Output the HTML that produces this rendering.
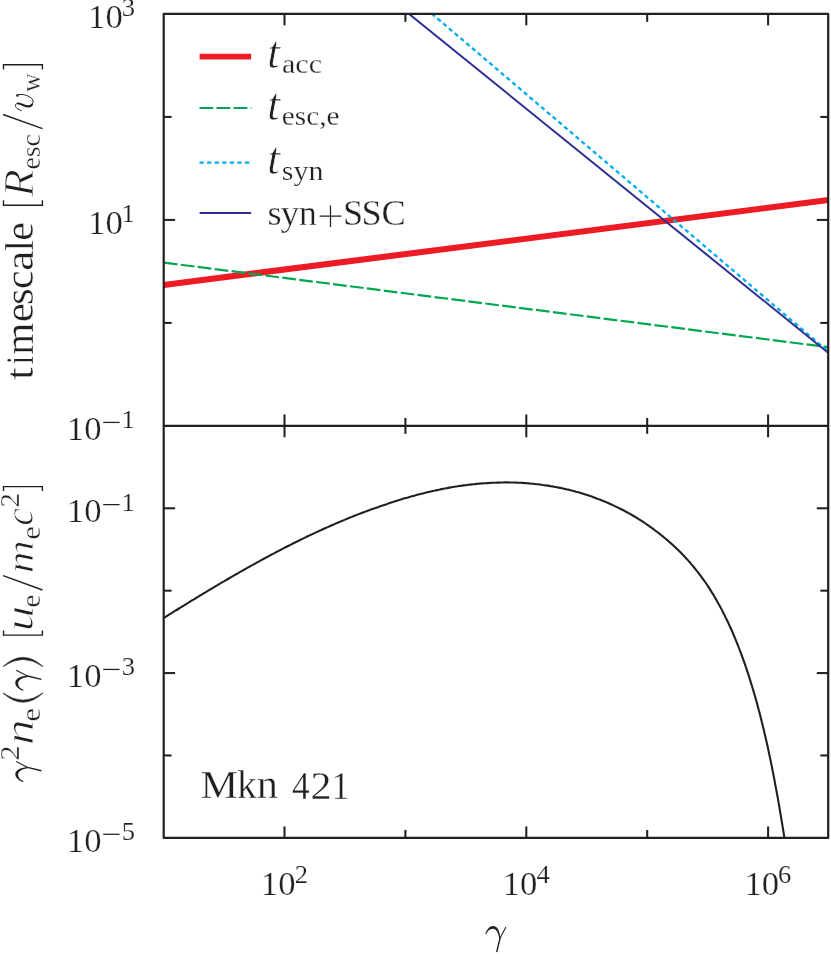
<!DOCTYPE html>
<html><head><meta charset="utf-8"><title>chart</title>
<style>html,body{margin:0;padding:0;background:#fff;}svg{display:block;will-change:transform;}text{font-family:"Liberation Serif",serif;fill:#231f20;}.i{font-style:italic;}</style></head><body>
<svg width="831" height="954" viewBox="0 0 831 954">
<rect width="831" height="954" fill="#fff"/>
<defs><clipPath id="ct"><rect x="163.70" y="13.95" width="664.50" height="411.95"/></clipPath>
<clipPath id="cb"><rect x="163.70" y="425.90" width="664.50" height="411.95"/></clipPath></defs>
<g clip-path="url(#ct)" fill="none">
<line x1="163.9" y1="284.95" x2="828.5" y2="200.0" stroke="#ed1c24" stroke-width="6.1"/>
<line x1="163.9" y1="262.6" x2="828.5" y2="347.2" stroke="#00a651" stroke-width="2.2" stroke-dasharray="13.7 3.35"/>
<line x1="420.17" y1="3.76" x2="840.00" y2="361.58" stroke="#00aeef" stroke-width="2.3" stroke-dasharray="4.3 3.27"/>
<line x1="396.43" y1="3.76" x2="840.00" y2="362.39" stroke="#2e3192" stroke-width="2.0"/>
</g>
<g clip-path="url(#cb)" fill="none"><path d="M162.4 618.8 L164.0 617.9 L165.5 616.9 L167.1 615.9 L168.7 614.9 L170.3 613.9 L171.9 612.9 L173.4 611.9 L175.0 610.9 L176.6 610.0 L178.2 609.0 L179.8 608.0 L181.3 607.0 L182.9 606.1 L184.5 605.1 L186.1 604.1 L187.6 603.1 L189.2 602.2 L190.8 601.2 L192.4 600.2 L194.0 599.3 L195.5 598.3 L197.1 597.3 L198.7 596.4 L200.3 595.4 L201.9 594.5 L203.4 593.5 L205.0 592.6 L206.6 591.6 L208.2 590.7 L209.8 589.7 L211.3 588.8 L212.9 587.8 L214.5 586.9 L216.1 586.0 L217.6 585.0 L219.2 584.1 L220.8 583.2 L222.4 582.2 L224.0 581.3 L225.5 580.4 L227.1 579.5 L228.7 578.5 L230.3 577.6 L231.9 576.7 L233.4 575.8 L235.0 574.9 L236.6 574.0 L238.2 573.1 L239.7 572.2 L241.3 571.3 L242.9 570.4 L244.5 569.5 L246.1 568.6 L247.6 567.7 L249.2 566.8 L250.8 565.9 L252.4 565.1 L254.0 564.2 L255.5 563.3 L257.1 562.4 L258.7 561.6 L260.3 560.7 L261.8 559.8 L263.4 559.0 L265.0 558.1 L266.6 557.3 L268.2 556.4 L269.7 555.6 L271.3 554.7 L272.9 553.9 L274.5 553.1 L276.1 552.2 L277.6 551.4 L279.2 550.6 L280.8 549.8 L282.4 548.9 L283.9 548.1 L285.5 547.3 L287.1 546.5 L288.7 545.7 L290.3 544.9 L291.8 544.1 L293.4 543.3 L295.0 542.5 L296.6 541.7 L298.2 541.0 L299.7 540.2 L301.3 539.4 L302.9 538.6 L304.5 537.9 L306.0 537.1 L307.6 536.3 L309.2 535.6 L310.8 534.8 L312.4 534.1 L313.9 533.4 L315.5 532.6 L317.1 531.9 L318.7 531.2 L320.3 530.4 L321.8 529.7 L323.4 529.0 L325.0 528.3 L326.6 527.6 L328.2 526.9 L329.7 526.2 L331.3 525.5 L332.9 524.8 L334.5 524.1 L336.0 523.4 L337.6 522.7 L339.2 522.1 L340.8 521.4 L342.4 520.7 L343.9 520.1 L345.5 519.4 L347.1 518.8 L348.7 518.1 L350.3 517.5 L351.8 516.9 L353.4 516.2 L355.0 515.6 L356.6 515.0 L358.1 514.4 L359.7 513.8 L361.3 513.2 L362.9 512.6 L364.5 512.0 L366.0 511.4 L367.6 510.8 L369.2 510.2 L370.8 509.6 L372.4 509.1 L373.9 508.5 L375.5 508.0 L377.1 507.4 L378.7 506.9 L380.2 506.3 L381.8 505.8 L383.4 505.2 L385.0 504.7 L386.6 504.2 L388.1 503.6 L389.7 503.1 L391.3 502.6 L392.9 502.1 L394.5 501.5 L396.0 501.0 L397.6 500.5 L399.2 500.1 L400.8 499.6 L402.3 499.1 L403.9 498.6 L405.5 498.1 L407.1 497.7 L408.7 497.2 L410.2 496.8 L411.8 496.3 L413.4 495.9 L415.0 495.5 L416.6 495.0 L418.1 494.6 L419.7 494.2 L421.3 493.8 L422.9 493.4 L424.5 493.0 L426.0 492.6 L427.6 492.2 L429.2 491.9 L430.8 491.5 L432.3 491.1 L433.9 490.8 L435.5 490.4 L437.1 490.1 L438.7 489.8 L440.2 489.4 L441.8 489.1 L443.4 488.8 L445.0 488.5 L446.6 488.2 L448.1 487.9 L449.7 487.6 L451.3 487.3 L452.9 487.0 L454.4 486.8 L456.0 486.5 L457.6 486.3 L459.2 486.0 L460.8 485.8 L462.3 485.6 L463.9 485.4 L465.5 485.2 L467.1 485.0 L468.7 484.8 L470.2 484.6 L471.8 484.4 L473.4 484.2 L475.0 484.1 L476.5 483.9 L478.1 483.8 L479.7 483.6 L481.3 483.5 L482.9 483.4 L484.4 483.3 L486.0 483.2 L487.6 483.1 L489.2 483.0 L490.8 482.9 L492.3 482.8 L493.9 482.7 L495.5 482.7 L497.1 482.6 L498.6 482.6 L500.2 482.5 L501.8 482.5 L503.4 482.5 L505.0 482.4 L506.5 482.4 L508.1 482.4 L509.7 482.5 L511.3 482.5 L512.9 482.5 L514.4 482.5 L516.0 482.6 L517.6 482.7 L519.2 482.7 L520.7 482.8 L522.3 482.9 L523.9 483.0 L525.5 483.1 L527.1 483.3 L528.6 483.4 L530.2 483.5 L531.8 483.7 L533.4 483.8 L535.0 484.0 L536.5 484.2 L538.1 484.3 L539.7 484.5 L541.3 484.7 L542.9 485.0 L544.4 485.2 L546.0 485.4 L547.6 485.6 L549.2 485.9 L550.7 486.2 L552.3 486.4 L553.9 486.7 L555.5 487.0 L557.1 487.3 L558.6 487.6 L560.2 487.9 L561.8 488.2 L563.4 488.6 L565.0 488.9 L566.5 489.3 L568.1 489.6 L569.7 490.0 L571.3 490.4 L572.8 490.8 L574.4 491.2 L576.0 491.7 L577.6 492.1 L579.2 492.6 L580.7 493.0 L582.3 493.5 L583.9 494.0 L585.5 494.5 L587.1 495.0 L588.6 495.5 L590.2 496.1 L591.8 496.6 L593.4 497.2 L594.9 497.8 L596.5 498.4 L598.1 498.9 L599.7 499.6 L601.3 500.2 L602.8 500.8 L604.4 501.5 L606.0 502.1 L607.6 502.8 L609.2 503.5 L610.7 504.2 L612.3 504.9 L613.9 505.6 L615.5 506.4 L617.0 507.1 L618.6 507.9 L620.2 508.7 L621.8 509.5 L623.4 510.3 L624.9 511.1 L626.5 512.0 L628.1 512.9 L629.7 513.7 L631.3 514.6 L632.8 515.5 L634.4 516.5 L636.0 517.4 L637.6 518.4 L639.1 519.4 L640.7 520.4 L642.3 521.4 L643.9 522.4 L645.5 523.5 L647.0 524.6 L648.6 525.7 L650.2 526.8 L651.8 527.9 L653.4 529.1 L654.9 530.3 L656.5 531.5 L658.1 532.7 L659.7 533.9 L661.3 535.2 L662.8 536.4 L664.4 537.7 L666.0 539.0 L667.6 540.4 L669.1 541.7 L670.7 543.1 L672.3 544.5 L673.9 546.0 L675.5 547.4 L677.0 548.9 L678.6 550.5 L680.2 552.1 L681.8 553.7 L683.4 555.3 L684.9 557.0 L686.5 558.7 L688.1 560.4 L689.7 562.2 L691.2 564.1 L692.8 565.9 L694.4 567.8 L696.0 569.8 L697.6 571.8 L699.1 573.8 L700.7 575.9 L702.3 578.1 L703.9 580.3 L705.5 582.5 L707.0 584.8 L708.6 587.2 L710.2 589.6 L711.7 592.1 L713.3 594.6 L714.8 597.3 L716.4 599.9 L717.9 602.7 L719.5 605.5 L721.1 608.4 L722.6 611.4 L724.2 614.4 L725.7 617.6 L727.3 620.8 L728.8 624.1 L730.4 627.5 L732.0 631.0 L733.5 634.6 L735.1 638.3 L736.6 642.1 L738.2 646.0 L739.7 650.0 L741.3 654.1 L742.8 658.4 L744.4 662.7 L746.0 667.3 L747.5 671.9 L749.1 676.7 L750.6 681.6 L752.2 686.7 L753.7 691.9 L755.3 697.3 L756.9 702.9 L758.4 708.7 L760.0 714.6 L761.5 720.7 L763.1 727.1 L764.6 733.6 L766.2 740.3 L767.8 747.3 L769.3 754.5 L770.9 761.9 L772.4 769.6 L774.0 777.6 L775.5 785.8 L777.1 794.3 L778.7 803.1 L780.2 812.2 L781.8 821.6 L783.4 831.3 L785.0 841.4 L786.5 851.8 L788.1 862.6" stroke="#231f20" stroke-width="2.1" stroke-linejoin="round"/></g>
<g stroke="#231f20" stroke-width="2.05">
<line x1="284.50" y1="13.95" x2="284.50" y2="25.35"/>
<line x1="284.50" y1="414.50" x2="284.50" y2="437.30"/>
<line x1="284.50" y1="826.45" x2="284.50" y2="837.85"/>
<line x1="405.40" y1="13.95" x2="405.40" y2="21.85"/>
<line x1="405.40" y1="418.00" x2="405.40" y2="433.80"/>
<line x1="405.40" y1="829.95" x2="405.40" y2="837.85"/>
<line x1="526.30" y1="13.95" x2="526.30" y2="25.35"/>
<line x1="526.30" y1="414.50" x2="526.30" y2="437.30"/>
<line x1="526.30" y1="826.45" x2="526.30" y2="837.85"/>
<line x1="647.20" y1="13.95" x2="647.20" y2="21.85"/>
<line x1="647.20" y1="418.00" x2="647.20" y2="433.80"/>
<line x1="647.20" y1="829.95" x2="647.20" y2="837.85"/>
<line x1="768.10" y1="13.95" x2="768.10" y2="25.35"/>
<line x1="768.10" y1="414.50" x2="768.10" y2="437.30"/>
<line x1="768.10" y1="826.45" x2="768.10" y2="837.85"/>
<line x1="163.70" y1="116.94" x2="171.60" y2="116.94"/>
<line x1="820.30" y1="116.94" x2="828.20" y2="116.94"/>
<line x1="163.70" y1="219.92" x2="175.10" y2="219.92"/>
<line x1="816.80" y1="219.92" x2="828.20" y2="219.92"/>
<line x1="163.70" y1="322.91" x2="171.60" y2="322.91"/>
<line x1="820.30" y1="322.91" x2="828.20" y2="322.91"/>
<line x1="163.70" y1="508.29" x2="175.10" y2="508.29"/>
<line x1="816.80" y1="508.29" x2="828.20" y2="508.29"/>
<line x1="163.70" y1="590.68" x2="171.60" y2="590.68"/>
<line x1="820.30" y1="590.68" x2="828.20" y2="590.68"/>
<line x1="163.70" y1="673.07" x2="175.10" y2="673.07"/>
<line x1="816.80" y1="673.07" x2="828.20" y2="673.07"/>
<line x1="163.70" y1="755.46" x2="171.60" y2="755.46"/>
<line x1="820.30" y1="755.46" x2="828.20" y2="755.46"/>
</g>
<g stroke="#231f20" stroke-width="2.2" fill="none" stroke-linejoin="round">
<rect x="163.70" y="13.95" width="664.50" height="823.90"/>
<line x1="163.70" y1="425.90" x2="828.20" y2="425.90"/>
</g>
<g fill="none">
<line x1="199.6" y1="56.7" x2="251.1" y2="56.7" stroke="#ed1c24" stroke-width="5.8"/>
<line x1="199.5" y1="107.9" x2="251.3" y2="107.9" stroke="#00a651" stroke-width="2.0" stroke-dasharray="13.7 3.35"/>
<line x1="199.5" y1="162.7" x2="251.1" y2="162.7" stroke="#00aeef" stroke-width="2.3" stroke-dasharray="4.3 3.27"/>
<line x1="199.6" y1="212.9" x2="251.1" y2="212.9" stroke="#2e3192" stroke-width="2.0"/>
</g>
<text transform="translate(88.08 27.95) scale(1.0393 1)" font-size="33.40" stroke="#fff" stroke-width="0.25">10</text>
<text transform="translate(121.83 16.45) scale(1.0800 1)" font-size="24.60" stroke="#fff" stroke-width="0.15">3</text>
<text transform="translate(88.08 233.75) scale(1.0393 1)" font-size="33.40" stroke="#fff" stroke-width="0.25">10</text>
<text transform="translate(121.56 222.25) scale(1.0800 1)" font-size="24.60" stroke="#fff" stroke-width="0.15">1</text>
<text transform="translate(66.78 439.90) scale(1.0393 1)" font-size="33.40" stroke="#fff" stroke-width="0.25">10</text>
<rect x="103.20" y="421.80" width="16.4" height="1.25" fill="#231f20"/>
<text transform="translate(121.56 428.40) scale(1.0800 1)" font-size="24.60" stroke="#fff" stroke-width="0.15">1</text>
<text transform="translate(66.78 522.10) scale(1.0393 1)" font-size="33.40" stroke="#fff" stroke-width="0.25">10</text>
<rect x="103.20" y="504.00" width="16.4" height="1.25" fill="#231f20"/>
<text transform="translate(121.56 510.60) scale(1.0800 1)" font-size="24.60" stroke="#fff" stroke-width="0.15">1</text>
<text transform="translate(66.78 686.90) scale(1.0393 1)" font-size="33.40" stroke="#fff" stroke-width="0.25">10</text>
<rect x="103.20" y="668.80" width="16.4" height="1.25" fill="#231f20"/>
<text transform="translate(121.83 675.40) scale(1.0800 1)" font-size="24.60" stroke="#fff" stroke-width="0.15">3</text>
<text transform="translate(66.78 851.75) scale(1.0393 1)" font-size="33.40" stroke="#fff" stroke-width="0.25">10</text>
<rect x="103.20" y="833.65" width="16.4" height="1.25" fill="#231f20"/>
<text transform="translate(121.69 840.25) scale(1.0800 1)" font-size="24.60" stroke="#fff" stroke-width="0.15">5</text>
<text transform="translate(260.78 894.90) scale(1.0393 1)" font-size="33.40" stroke="#fff" stroke-width="0.25">10</text>
<text transform="translate(294.79 882.70) scale(1.0800 1)" font-size="24.60" stroke="#fff" stroke-width="0.15">2</text>
<text transform="translate(502.58 894.90) scale(1.0393 1)" font-size="33.40" stroke="#fff" stroke-width="0.25">10</text>
<text transform="translate(536.39 882.70) scale(1.0800 1)" font-size="24.60" stroke="#fff" stroke-width="0.15">4</text>
<text transform="translate(744.38 894.90) scale(1.0393 1)" font-size="33.40" stroke="#fff" stroke-width="0.25">10</text>
<text transform="translate(778.06 882.70) scale(1.0800 1)" font-size="24.60" stroke="#fff" stroke-width="0.15">6</text>
<text transform="translate(267.08 67.90) scale(1.0374 1)" font-size="45.50" class="i" stroke="#fff" stroke-width="0.70">t</text>
<text transform="translate(281.95 73.30) scale(1.1155 1)" font-size="27.00" stroke="#fff" stroke-width="0.25">acc</text>
<text transform="translate(267.08 119.70) scale(1.0374 1)" font-size="45.50" class="i" stroke="#fff" stroke-width="0.70">t</text>
<text transform="translate(281.83 125.10) scale(1.0847 1)" font-size="27.00" stroke="#fff" stroke-width="0.25">esc,e</text>
<text transform="translate(267.08 174.10) scale(1.0374 1)" font-size="45.50" class="i" stroke="#fff" stroke-width="0.70">t</text>
<text transform="translate(281.80 179.50) scale(1.1097 1)" font-size="27.00" stroke="#fff" stroke-width="0.25">syn</text>
<text transform="translate(267.45 224.90) scale(0.9997 1)" font-size="36.20" stroke="#fff" stroke-width="0.35">s</text>
<text transform="translate(280.42 224.90) scale(1.0366 1)" font-size="36.20" stroke="#fff" stroke-width="0.35">y</text>
<text transform="translate(299.11 224.90) scale(0.9849 1)" font-size="36.20" stroke="#fff" stroke-width="0.35">n</text>
<text transform="translate(342.94 224.90) scale(1.0022 1)" font-size="36.20" stroke="#fff" stroke-width="0.35">S</text>
<text transform="translate(361.44 224.90) scale(1.0022 1)" font-size="36.20" stroke="#fff" stroke-width="0.35">S</text>
<text transform="translate(381.55 224.90) scale(1.0032 1)" font-size="36.20" stroke="#fff" stroke-width="0.35">C</text>
<path d="M319.6 216.2 H341.4 M330.5 205.4 V227" fill="none" stroke="#231f20" stroke-width="1.25"/>
<text transform="translate(200.43 798.40) scale(1.0464 1)" font-size="40.30" stroke="#fff" stroke-width="0.35">M</text>
<text transform="translate(237.01 798.40) scale(0.9770 1)" font-size="40.30" stroke="#fff" stroke-width="0.35">k</text>
<text transform="translate(256.74 798.40) scale(1.0519 1)" font-size="40.30" stroke="#fff" stroke-width="0.35">n</text>
<text transform="translate(292.09 798.50) scale(0.8666 1)" font-size="40.70" stroke="#fff" stroke-width="0.35">4</text>
<text transform="translate(310.61 798.50) scale(1.0319 1)" font-size="40.70" stroke="#fff" stroke-width="0.35">2</text>
<text transform="translate(331.43 798.50) scale(0.8915 1)" font-size="40.70" stroke="#fff" stroke-width="0.35">1</text>
<g transform="translate(485.3 925.9)"><path d="M0 8 C1.5 3.5 4.5 0.1 7.8 0.1 C11.5 0.1 14.2 3.5 15.2 12.5 L13.9 13 C13.3 7.5 11.2 2.9 7.4 2.9 C4.6 2.9 2.4 5 1 8.2 Z" fill="#231f20"/><path d="M20.6 1 L14.6 12.6" fill="none" stroke="#231f20" stroke-width="1.05"/><path d="M14.75 12.3 L11.4 26.2" fill="none" stroke="#231f20" stroke-width="1.45"/></g>
<text transform="translate(33.30 380.06) rotate(-90) scale(1.1685 1)" font-size="39.50" stroke="#fff" stroke-width="0.35">t</text>
<text transform="translate(33.30 363.97) rotate(-90) scale(0.7173 1)" font-size="39.50" stroke="#fff" stroke-width="0.35">i</text>
<text transform="translate(33.30 354.72) rotate(-90) scale(1.0400 1)" font-size="39.50" stroke="#fff" stroke-width="0.35">m</text>
<text transform="translate(33.30 322.34) rotate(-90) scale(1.1016 1)" font-size="39.50" stroke="#fff" stroke-width="0.35">e</text>
<text transform="translate(33.30 305.11) rotate(-90) scale(1.0850 1)" font-size="39.50" stroke="#fff" stroke-width="0.35">s</text>
<text transform="translate(33.30 288.97) rotate(-90) scale(1.0599 1)" font-size="39.50" stroke="#fff" stroke-width="0.35">c</text>
<text transform="translate(33.30 271.12) rotate(-90) scale(1.1729 1)" font-size="39.50" stroke="#fff" stroke-width="0.35">a</text>
<text transform="translate(33.30 250.88) rotate(-90) scale(0.9916 1)" font-size="39.50" stroke="#fff" stroke-width="0.35">l</text>
<text transform="translate(33.30 240.78) rotate(-90) scale(1.0606 1)" font-size="39.50" stroke="#fff" stroke-width="0.35">e</text>
<path d="M3.5 200.30 L3.5 205.20 L42.4 205.20 L42.4 200.30" fill="none" stroke="#231f20" stroke-width="1.4"/>
<text transform="translate(33.30 197.07) rotate(-90) scale(1.0794 1)" font-size="42.00" class="i" stroke="#fff" stroke-width="0.90">R</text>
<text transform="translate(39.60 169.61) rotate(-90) scale(1.0146 1)" font-size="27.40" stroke="#fff" stroke-width="0.35">esc</text>
<line x1="42.5" y1="128.60" x2="3.1" y2="114.50" stroke="#231f20" stroke-width="1.4"/>
<g fill="none" stroke="#231f20" stroke-linecap="round"><path d="M21.4 110.6 C18 109.6 15 107.2 15.5 105 C15.9 103.6 17.2 103.1 18.6 103.3" stroke-width="1.0"/><path d="M18.2 103.5 C21.5 103.6 24 105.9 27.5 106.4 C29.6 106.7 31.1 106 31.9 104.7" stroke-width="2.2"/><path d="M31.9 104.7 C33.6 102.4 33.5 100 31.5 98.2 C29 96 25 94.5 21 94.4 C19.3 94.4 18.2 94.6 17.5 95" stroke-width="1.0"/><circle cx="17.4" cy="95.5" r="0.75" stroke-width="1.2"/></g>
<text transform="translate(39.60 91.90) rotate(-90) scale(0.9428 1)" font-size="27.40" stroke="#fff" stroke-width="0.35">w</text>
<path d="M3.5 69.40 L3.5 64.70 L42.4 64.70 L42.4 69.40" fill="none" stroke="#231f20" stroke-width="1.4"/>
<g transform="translate(15.2 782.1) rotate(-90)"><path d="M0 8 C1.5 3.5 4.5 0.1 7.8 0.1 C11.5 0.1 14.2 3.5 15.2 12.5 L13.9 13 C13.3 7.5 11.2 2.9 7.4 2.9 C4.6 2.9 2.4 5 1 8.2 Z" fill="#231f20"/><path d="M20.6 1 L14.6 12.6" fill="none" stroke="#231f20" stroke-width="1.05"/><path d="M14.75 12.3 L11.4 26.2" fill="none" stroke="#231f20" stroke-width="1.45"/></g>
<text transform="translate(18.90 760.56) rotate(-90) scale(1.1121 1)" font-size="27.20" stroke="#fff" stroke-width="0.35">2</text>
<text transform="translate(33.30 745.32) rotate(-90) scale(1.3333 1)" font-size="39.00" class="i" stroke="#fff" stroke-width="0.90">n</text>
<text transform="translate(39.60 721.64) rotate(-90) scale(1.1343 1)" font-size="27.40" stroke="#fff" stroke-width="0.35">e</text>
<path d="M3 693.00 Q23 711.40 43 693.00 Q23 707.40 3 693.00 Z" fill="#231f20" stroke="#231f20" stroke-width="0.7" stroke-linejoin="round"/>
<g transform="translate(15.2 690.8) rotate(-90)"><path d="M0 8 C1.5 3.5 4.5 0.1 7.8 0.1 C11.5 0.1 14.2 3.5 15.2 12.5 L13.9 13 C13.3 7.5 11.2 2.9 7.4 2.9 C4.6 2.9 2.4 5 1 8.2 Z" fill="#231f20"/><path d="M20.6 1 L14.6 12.6" fill="none" stroke="#231f20" stroke-width="1.05"/><path d="M14.75 12.3 L11.4 26.2" fill="none" stroke="#231f20" stroke-width="1.45"/></g>
<path d="M3 666.60 Q23 648.20 43 666.60 Q23 652.20 3 666.60 Z" fill="#231f20" stroke="#231f20" stroke-width="0.7" stroke-linejoin="round"/>
<path d="M3.5 630.40 L3.5 635.10 L42.4 635.10 L42.4 630.40" fill="none" stroke="#231f20" stroke-width="1.4"/>
<text transform="translate(33.30 631.39) rotate(-90) scale(1.3284 1)" font-size="39.00" class="i" stroke="#fff" stroke-width="0.90">u</text>
<text transform="translate(39.60 607.80) rotate(-90) scale(1.0949 1)" font-size="27.40" stroke="#fff" stroke-width="0.35">e</text>
<line x1="42.5" y1="590.00" x2="3.1" y2="575.60" stroke="#231f20" stroke-width="1.4"/>
<text transform="translate(33.30 573.52) rotate(-90) scale(1.1886 1)" font-size="39.00" class="i" stroke="#fff" stroke-width="0.90">m</text>
<text transform="translate(39.60 539.73) rotate(-90) scale(1.1245 1)" font-size="27.40" stroke="#fff" stroke-width="0.35">e</text>
<text transform="translate(33.30 525.70) rotate(-90) scale(1.0256 1)" font-size="39.00" class="i" stroke="#fff" stroke-width="0.90">c</text>
<text transform="translate(18.90 507.50) rotate(-90) scale(1.0662 1)" font-size="27.20" stroke="#fff" stroke-width="0.35">2</text>
<path d="M3.5 491.00 L3.5 486.60 L42.4 486.60 L42.4 491.00" fill="none" stroke="#231f20" stroke-width="1.4"/>
</svg></body></html>
